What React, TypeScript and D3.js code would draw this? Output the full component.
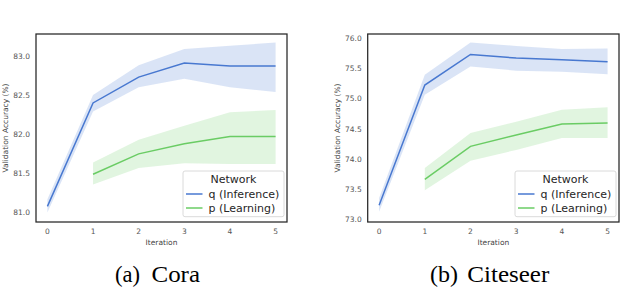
import React from "react";
import * as d3 from "d3";

// iteration index for each point
const iterations = [0, 1, 2, 3, 4, 5];
const pIterations = [1, 2, 3, 4, 5];

// Cora
const coraQ = [81.08, 82.40, 82.73, 82.91, 82.87, 82.87];
const coraQLo = [81.0, 82.29, 82.6, 82.71, 82.6, 82.54];
const coraQHi = [81.17, 82.5, 82.88, 83.09, 83.13, 83.17];
const coraP = [81.49, 81.75, 81.88, 81.97, 81.97];
const coraPLo = [81.36, 81.57, 81.63, 81.62, 81.62];
const coraPHi = [81.64, 81.93, 82.11, 82.28, 82.31];
const coraTicks = [81.0, 81.5, 82.0, 82.5, 83.0];

// Citeseer
const citeQ = [73.23, 75.23, 75.74, 75.68, 75.65, 75.62];
const citeQLo = [73.12, 75.07, 75.54, 75.47, 75.45, 75.41];
const citeQHi = [73.35, 75.4, 75.94, 75.88, 75.83, 75.84];
const citeP = [73.66, 74.21, 74.4, 74.58, 74.6];
const citePLo = [73.48, 73.97, 74.15, 74.35, 74.35];
const citePHi = [73.85, 74.43, 74.62, 74.82, 74.86];
const citeTicks = [73.0, 73.5, 74.0, 74.5, 75.0, 75.5, 76.0];

const xTicks = [0, 1, 2, 3, 4, 5];
const seriesNames = ["q (Inference)", "p (Learning)"];

const BLUE = "#4878d0";
const GREEN = "#6acc64";
const SANS = "DejaVu Sans";

function Panel(props: any) {
  const { left, right, top, bottom, yDomain, yTicks, q, qLo, qHi, p, pLo, pHi, labelX, captionA, captionB } = props;
  const x = d3.scaleLinear().domain([-0.25, 5.25]).range([left, right]);
  const y = d3.scaleLinear().domain(yDomain).range([bottom, top]);
  const fmt = d3.format(".1f");

  const band = (xs: number[], lo: number[], hi: number[]) =>
    d3.area<number>()
      .x((d, i) => x(xs[i]))
      .y0((d, i) => y(lo[i]))
      .y1((d, i) => y(hi[i]))(xs) as string;
  const line = (xs: number[], vs: number[]) =>
    d3.line<number>()
      .x((d, i) => x(xs[i]))
      .y((d) => y(d))(vs) as string;

  const legX = right - 104;
  const legY = 171;

  return (
    <g>
      <path d={band(iterations, qLo, qHi)} fill={BLUE} fillOpacity={0.2} />
      <path d={band(pIterations, pLo, pHi)} fill={GREEN} fillOpacity={0.2} />
      <path d={line(iterations, q)} fill="none" stroke={BLUE} strokeWidth={1.5} />
      <path d={line(pIterations, p)} fill="none" stroke={GREEN} strokeWidth={1.5} />
      <rect x={left} y={top} width={right - left} height={bottom - top} fill="none" stroke="#262626" strokeWidth={1.25} />

      {yTicks.map((t: number) => (
        <text key={t} x={left - 6} y={y(t)} dy="0.35em" textAnchor="end" fontSize={7.5} fill="#555" fontFamily={SANS}>
          {fmt(t)}
        </text>
      ))}
      {xTicks.map((t) => (
        <text key={t} x={x(t)} y={233.5} textAnchor="middle" fontSize={7.5} fill="#555" fontFamily={SANS}>
          {t}
        </text>
      ))}
      <text x={(left + right) / 2} y={245} textAnchor="middle" fontSize={7.5} fill="#444" fontFamily={SANS}>Iteration</text>
      <text transform={`translate(${labelX},${(top + bottom) / 2}) rotate(-90)`} textAnchor="middle" dy="0.35em" fontSize={7.5} fill="#444" fontFamily={SANS}>
        Validation Accuracy (%)
      </text>

      <rect x={legX} y={legY} width={101} height={45.7} rx={2} fill="#fff" fillOpacity={0.8} stroke="#d0d0d0" strokeWidth={0.8} />
      <text x={legX + 50.5} y={legY + 8.3} dy="0.35em" textAnchor="middle" fontSize={11} fill="#262626" fontFamily={SANS}>Network</text>
      {seriesNames.map((name, i) => (
        <g key={name}>
          <line x1={legX + 3} x2={legX + 19.5} y1={legY + 23 + i * 14} y2={legY + 23 + i * 14} stroke={i === 0 ? BLUE : GREEN} strokeWidth={1.5} />
          <text x={legX + 25.5} y={legY + 23 + i * 14} dy="0.35em" fontSize={11} fill="#262626" fontFamily={SANS}>{name}</text>
        </g>
      ))}

      <text x={captionA.x} y={282} fontSize={23} fontFamily="Liberation Serif" fill="#000"
        textLength={captionA.w} lengthAdjust="spacingAndGlyphs">{captionA.text}</text>
      <text x={captionB.x} y={282} fontSize={23} fontFamily="Liberation Serif" fill="#000"
        textLength={captionB.w} lengthAdjust="spacingAndGlyphs">{captionB.text}</text>
    </g>
  );
}

export default function App() {
  return (
    <svg width={620} height={288} style={{ position: "absolute", left: 0, top: 0, background: "#fff" }}>
      <rect width={620} height={288} fill="#fff" />
      <Panel
        left={36} right={287} top={34} bottom={222}
        yDomain={[80.88, 83.28]} yTicks={coraTicks}
        q={coraQ} qLo={coraQLo} qHi={coraQHi}
        p={coraP} pLo={coraPLo} pHi={coraPHi}
        labelX={5}
        captionA={{ x: 115, text: "(a)", w: 25 }} captionB={{ x: 151.5, text: "Cora", w: 48.5 }}
      />
      <Panel
        left={367.7} right={619} top={34} bottom={222}
        yDomain={[72.95, 76.08]} yTicks={citeTicks}
        q={citeQ} qLo={citeQLo} qHi={citeQHi}
        p={citeP} pLo={citePLo} pHi={citePHi}
        labelX={337}
        captionA={{ x: 430, text: "(b)", w: 28 }} captionB={{ x: 467.3, text: "Citeseer", w: 82 }}
      />
    </svg>
  );
}
